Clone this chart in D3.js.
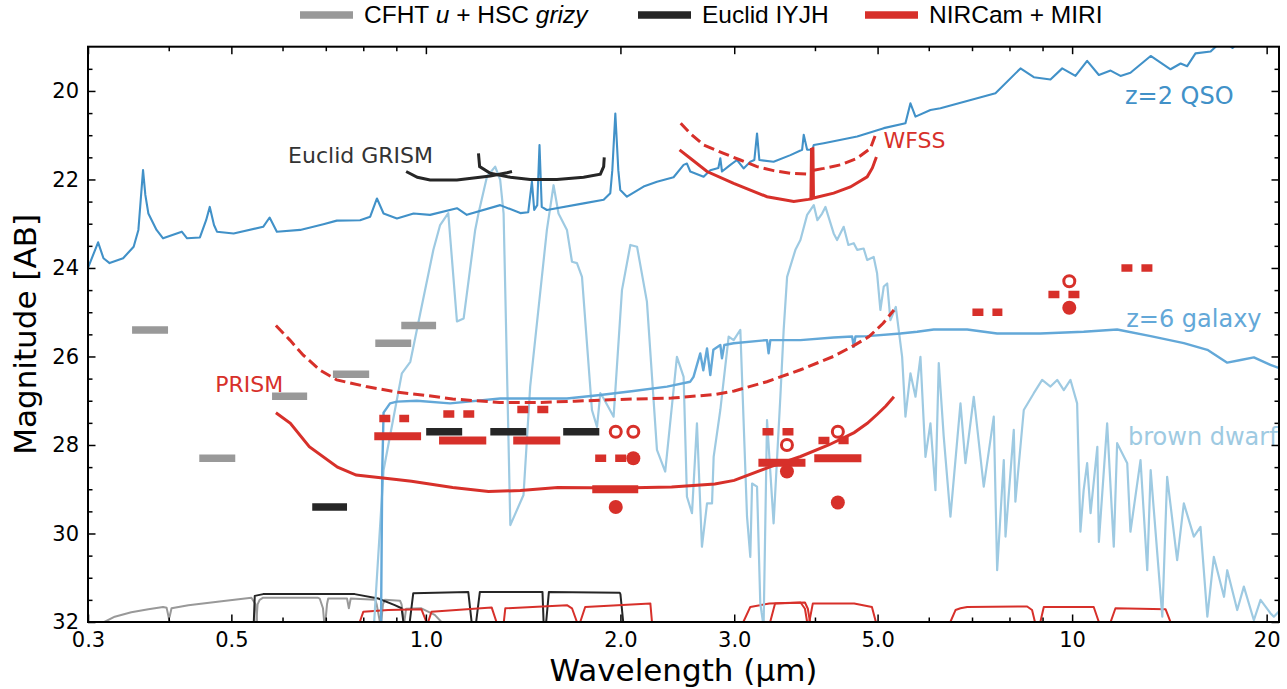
<!DOCTYPE html>
<html>
<head>
<meta charset="utf-8">
<script src="https://cdn.jsdelivr.net/npm/d3@7"></script>
<style>
  body { margin: 0; background: #fff; }
  svg { display: block; font-family: "DejaVu Sans", sans-serif; }
  .legend text { font-family: "Liberation Sans", Arial, sans-serif; }
</style>
</head>
<body>
<svg id="chart" width="1287" height="689"></svg>
<script>
// ---- data: wavelength (micron), AB magnitude ----

// spectra
const qsoSpec = [[0.300,24.0],[0.311,23.42],[0.317,23.78],[0.324,23.89],[0.340,23.78],[0.353,23.52],[0.359,23.14],[0.362,22.46],[0.365,21.79],[0.368,22.35],[0.372,22.77],[0.383,23.14],[0.392,23.33],[0.419,23.18],[0.427,23.33],[0.447,23.31],[0.457,22.92],[0.463,22.62],[0.470,23.03],[0.475,23.18],[0.504,23.22],[0.560,23.07],[0.573,22.86],[0.588,23.18],[0.639,23.14],[0.694,23.01],[0.728,22.93],[0.791,22.92],[0.820,22.84],[0.840,22.43],[0.860,22.77],[0.902,22.88],[0.957,22.77],[1.015,22.80],[1.117,22.65],[1.157,22.80],[1.303,22.58],[1.400,22.76],[1.440,22.74],[1.459,22.05],[1.471,22.69],[1.487,22.58],[1.499,21.22],[1.511,22.62],[1.539,22.69],[1.754,22.54],[1.884,22.46],[1.929,22.31],[1.943,21.79],[1.964,20.51],[1.985,21.79],[1.999,22.24],[2.047,22.39],[2.172,22.16],[2.278,22.05],[2.417,21.95],[2.505,21.67],[2.535,21.64],[2.565,21.82],[2.690,21.94],[2.755,21.79],[2.835,21.74],[2.855,21.52],[2.872,21.82],[2.959,21.67],[3.030,21.56],[3.102,21.75],[3.177,21.60],[3.223,21.56],[3.254,20.96],[3.281,21.56],[3.452,21.60],[3.665,21.45],[3.821,21.33],[3.843,20.99],[3.890,21.33],[3.964,21.33],[3.983,21.22],[4.127,21.18],[4.649,21.03],[5.111,20.84],[5.522,20.73],[5.621,20.28],[5.723,20.58],[6.036,20.43],[6.255,20.39],[7.610,20.05],[8.320,19.49],[8.724,19.69],[9.258,19.74],[9.653,19.49],[10.12,19.66],[10.55,19.32],[11.00,19.64],[11.47,19.54],[11.88,19.66],[12.31,19.59],[13.23,19.21],[14.20,19.51],[14.72,19.38],[15.07,19.44],[15.52,19.15],[16.38,19.11],[17.1,18.85],[17.71,19.03],[18.55,18.74]];

const galaxySpec = [[0.852,32.3],[0.856,28.57],[0.860,27.27],[0.880,27.06],[0.902,27.02],[0.968,27.0],[1.090,27.06],[1.303,26.95],[1.653,26.95],[1.862,26.87],[2.096,26.78],[2.361,26.68],[2.565,26.57],[2.595,26.46],[2.658,25.93],[2.687,26.31],[2.723,25.82],[2.755,26.42],[2.785,25.85],[2.855,25.74],[2.872,26.04],[2.896,25.74],[2.994,25.70],[3.372,25.63],[3.391,25.93],[3.412,25.63],[3.798,25.63],[4.276,25.57],[4.567,25.55],[4.593,25.78],[4.621,25.55],[4.818,25.54],[5.424,25.48],[5.757,25.44],[6.107,25.39],[6.880,25.39],[7.656,25.48],[8.93,25.48],[10.42,25.44],[11.74,25.39],[13.23,25.54],[14.89,25.70],[16.19,25.85],[17.38,26.14],[18.23,26.08],[19.11,26.02],[20.27,26.19],[21.0,26.27]];

const dwarfSpec = [[0.830,32.2],[0.860,28.57],[0.918,26.38],[0.946,26.12],[0.980,25.03],[1.027,23.59],[1.052,23.03],[1.083,22.76],[1.117,25.21],[1.144,25.14],[1.192,23.14],[1.206,22.77],[1.243,21.94],[1.280,21.71],[1.303,22.01],[1.319,22.77],[1.351,29.81],[1.416,29.13],[1.450,26.68],[1.539,23.14],[1.576,22.13],[1.604,22.77],[1.653,23.14],[1.683,23.86],[1.713,23.89],[1.744,24.20],[1.807,27.21],[1.840,27.59],[1.862,26.83],[1.884,26.95],[1.952,27.36],[2.011,24.50],[2.072,23.48],[2.122,23.52],[2.198,24.76],[2.278,28.11],[2.346,28.60],[2.446,26.01],[2.505,26.46],[2.535,29.17],[2.581,29.54],[2.627,27.51],[2.674,30.30],[2.723,29.32],[2.772,29.32],[2.788,28.27],[2.855,27.21],[2.941,25.55],[2.994,25.63],[3.066,25.40],[3.140,29.62],[3.177,30.53],[3.197,28.87],[3.254,28.94],[3.292,31.58],[3.331,32.1],[3.372,27.44],[3.452,29.77],[3.536,26.91],[3.578,25.40],[3.622,24.20],[3.731,23.59],[3.798,23.37],[3.890,22.80],[3.983,22.58],[4.035,22.92],[4.103,22.77],[4.152,22.62],[4.276,23.22],[4.328,23.37],[4.431,23.07],[4.506,23.48],[4.593,23.44],[4.649,23.59],[4.758,23.56],[4.818,23.82],[4.931,23.75],[4.991,24.12],[5.050,24.95],[5.111,24.42],[5.174,24.35],[5.234,25.18],[5.335,24.88],[5.391,25.40],[5.457,26.01],[5.522,27.36],[5.621,26.38],[5.723,26.91],[5.825,26.01],[5.930,28.27],[6.036,27.51],[6.145,29.02],[6.218,26.15],[6.329,27.81],[6.482,29.62],[6.718,27.06],[6.838,28.41],[7.044,26.91],[7.299,28.94],[7.564,27.36],[7.656,30.83],[7.839,28.34],[7.887,30.07],[8.123,27.66],[8.17,29.28],[8.418,27.21],[8.724,26.83],[8.987,26.53],[9.258,26.68],[9.482,26.53],[9.708,26.76],[9.942,26.53],[10.18,27.06],[10.30,29.96],[10.42,29.02],[10.55,28.41],[10.68,29.54],[10.94,28.04],[11.00,30.19],[11.33,27.51],[11.60,30.30],[11.74,27.96],[12.17,28.41],[12.31,29.96],[12.76,28.34],[13.07,30.83],[13.23,28.57],[13.79,31.88],[14.03,28.72],[14.54,30.60],[14.89,29.32],[15.43,30.07],[15.80,29.85],[16.19,31.88],[16.57,30.53],[17.18,31.43],[17.38,30.83],[18.01,31.73],[18.44,31.20],[19.11,31.96],[19.57,31.50],[20.27,31.80],[20.52,31.88],[21.0,31.73]];

// spectroscopic sensitivity curves
const prismDeep = [[0.586,27.27],[0.617,27.51],[0.66,28.04],[0.73,28.5],[0.78,28.68],[0.90,28.78],[0.95,28.82],[1.1,28.96],[1.25,29.05],[1.4,29.03],[1.6,28.96],[2.0,28.97],[2.4,28.95],[2.8,28.88],[3.0,28.8],[3.4,28.5],[3.8,28.26],[4.2,28.0],[4.6,27.72],[4.82,27.51],[5.0,27.3],[5.15,27.12],[5.3,26.91]];
const prismShallow = [[0.586,25.30],[0.616,25.63],[0.646,25.97],[0.686,26.31],[0.728,26.53],[0.808,26.68],[0.906,26.81],[1.0,26.88],[1.1,26.96],[1.3,27.04],[1.5,27.04],[1.7,27.01],[2.0,26.97],[2.4,26.94],[2.8,26.86],[3.0,26.78],[3.37,26.57],[3.8,26.30],[4.27,26.0],[4.6,25.75],[4.85,25.55],[5.1,25.25],[5.3,24.95]];
const wfssDeepA = [[2.469,21.33],[2.565,21.52],[2.723,21.82],[2.994,22.09],[3.372,22.39],[3.709,22.50],[3.908,22.45],[3.943,22.44],[3.951,21.29]];
const wfssDeepB = [[3.971,21.27],[3.979,22.42],[4.276,22.31],[4.538,22.17],[4.818,21.94],[4.908,21.74],[4.979,21.49]];
const wfssShallowA = [[2.479,20.73],[2.565,20.96],[2.690,21.22],[2.889,21.41],[3.066,21.56],[3.254,21.71],[3.452,21.80],[3.665,21.86],[3.936,21.88]];
const wfssShallowB = [[3.983,21.79],[4.127,21.75],[4.379,21.67],[4.649,21.52],[4.873,21.30],[4.96,21.0]];
const grismBlue = [[0.932,21.82],[0.97,21.95],[1.015,22.01],[1.117,22.01],[1.258,21.92],[1.335,21.85],[1.359,21.82]];
const grismRed = [[1.206,21.41],[1.211,21.71],[1.258,21.86],[1.351,21.95],[1.450,22.0],[1.595,22.0],[1.754,21.95],[1.862,21.88],[1.884,21.71],[1.888,21.50]];

// imaging depths: [lambda min, lambda max, mag]
const hscBands = [[0.351,0.399,25.4],[0.446,0.507,28.3],[0.578,0.655,26.9],[0.718,0.817,26.4],[0.835,0.949,25.7],[0.916,1.037,25.3]];
const euclidBands = [[0.667,0.755,29.4],[1.001,1.138,27.7],[1.258,1.430,27.7],[1.631,1.855,27.7]];
const jwstDeep = [[0.832,0.983,27.8],[1.048,1.240,27.9],[1.365,1.614,27.9],[1.809,2.131,29.0],[3.27,3.867,28.4],[3.99,4.72,28.3]];
const jwstShallow = [[0.847,0.942,27.4],[1.064,1.188,27.3],[1.385,1.547,27.2],[1.828,2.071,28.3],[3.318,3.705,27.7],[4.05,4.51,27.9],[7.01,7.80,25.0],[9.19,10.27,24.6],[11.92,13.32,24.0]];
const openPts = [[1.967,27.7],[2.094,27.7],[3.62,28.0],[4.34,27.7],[9.9,24.3]];
const filledPts = [[2.094,28.3],[1.967,29.4],[3.62,28.6],[4.34,29.3],[9.9,24.9]];

// filter transmission curves drawn along the bottom axis
const hscFilters = [
  [[0.318,32.0],[0.330,31.88],[0.350,31.78],[0.372,31.71],[0.392,31.66],[0.397,31.68],[0.400,31.9],[0.401,32.0]],
  [[0.401,31.9],[0.404,31.69],[0.429,31.62],[0.483,31.53],[0.537,31.45],[0.545,31.6],[0.548,32.0]],
  [[0.5465,32.0],[0.549,31.6],[0.553,31.50],[0.560,31.45],[0.680,31.45],[0.685,31.47],[0.693,31.69],[0.696,32.0]],
  [[0.699,32.0],[0.703,31.6],[0.706,31.47],[0.755,31.47],[0.760,31.69],[0.765,31.47],[0.835,31.50],[0.839,31.6],[0.849,32.0]],
  [[0.853,32.0],[0.858,31.6],[0.864,31.50],[0.912,31.52],[0.917,31.6],[0.925,32.0]],
  [[0.926,32.0],[0.932,31.7],[0.984,31.69],[1.032,31.84],[1.057,32.0]]
];
const euclidFilters = [
  [[0.5416,32.0],[0.5435,31.41],[0.560,31.37],[0.776,31.37],[0.844,31.47],[0.895,31.62],[0.917,31.69],[0.923,32.0]],
  [[0.944,32.0],[0.956,31.35],[1.163,31.32],[1.177,32.0]],
  [[1.196,32.0],[1.212,31.32],[1.515,31.32],[1.521,32.0]],
  [[1.535,32.0],[1.55,31.32],[1.995,31.34],[2.0,31.37],[2.02,32.0]]
];
const jwstFilters = [
  [[0.790,32.0],[0.800,31.77],[0.874,31.73],[0.984,31.71],[1.002,32.0]],
  [[1.008,32.0],[1.020,31.77],[1.264,31.67],[1.286,32.0]],
  [[1.32,32.0],[1.327,31.69],[1.653,31.62],[1.683,31.69],[1.713,32.0]],
  [[1.733,32.0],[1.764,31.66],[2.225,31.58],[2.238,32.0]],
  [[3.099,32.0],[3.177,31.66],[3.40,31.58],[3.80,31.56],[3.86,31.70],[3.89,32.0]],
  [[3.41,32.0],[3.47,31.58],[3.86,31.56],[3.90,31.70],[3.93,32.0]],
  [[3.92,32.0],[3.97,31.58],[4.6,31.58],[4.9,31.66],[4.97,32.0]],
  [[6.48,32.0],[6.60,31.73],[6.718,31.69],[6.88,31.66],[8.52,31.65],[8.67,31.73],[8.76,32.0]],
  [[8.93,32.0],[9.04,31.66],[10.80,31.66],[11.0,32.0]],
  [[11.47,32.0],[11.67,31.69],[13.95,31.71],[14.2,32.0]]
];

// axis ticks
const xMajor = [0.3, 0.5, 1, 2, 3, 5, 10, 20];
const xMinor = [0.4, 0.6, 0.7, 0.8, 0.9, 4, 6, 7, 8, 9];
const yMajor = [20, 22, 24, 26, 28, 30, 32];
const yMinor = [19.5, 20.5, 21, 21.5, 22.5, 23, 23.5, 24.5, 25, 25.5, 26.5, 27, 27.5, 28.5, 29, 29.5, 30.5, 31, 31.5];

// ---- layout ----
const width = 1287, height = 689;
const margin = { top: 46.7, right: 8, bottom: 67, left: 88 };
const innerW = width - margin.left - margin.right;
const innerH = height - margin.top - margin.bottom;

const colors = {
  red: '#d7302a', gray: '#999999', black: '#262626',
  qso: '#4191c8', galaxy: '#63a8d8', dwarf: '#9ecae2'
};

const svg = d3.select('#chart');

const x = d3.scaleLog().domain([0.3, 20.9]).range([margin.left, margin.left + innerW]);
const y = d3.scaleLinear().domain([19, 32]).range([margin.top, margin.top + innerH]);

svg.append('defs').append('clipPath').attr('id', 'plot-clip')
  .append('rect')
  .attr('x', margin.left).attr('y', margin.top)
  .attr('width', innerW).attr('height', innerH);

const plot = svg.append('g').attr('clip-path', 'url(#plot-clip)');

const line = d3.line().x(d => x(d[0])).y(d => y(d[1]));

// filter transmission curves
function drawCurves(list, color, w) {
  plot.append('g').selectAll('path').data(list).enter().append('path')
    .attr('d', line).attr('fill', 'none')
    .attr('stroke', color).attr('stroke-width', w)
    .attr('stroke-linejoin', 'round');
}
drawCurves(hscFilters, colors.gray, 2);
drawCurves(euclidFilters, colors.black, 2);
drawCurves(jwstFilters, colors.red, 2);

// spectra
function drawSpec(data, color, w) {
  plot.append('path').datum(data)
    .attr('d', line).attr('fill', 'none')
    .attr('stroke', color).attr('stroke-width', w)
    .attr('stroke-linejoin', 'round');
}
drawSpec(dwarfSpec, colors.dwarf, 2.2);
drawSpec(galaxySpec, colors.galaxy, 2.4);
drawSpec(qsoSpec, colors.qso, 2.1);

// spectroscopic sensitivities
function drawSens(data, color, dashed) {
  plot.append('path').datum(data)
    .attr('d', line).attr('fill', 'none')
    .attr('stroke', color).attr('stroke-width', 3)
    .attr('stroke-dasharray', dashed ? '11,5' : null)
    .attr('stroke-linecap', 'butt');
}
drawSens(grismBlue, colors.black, false);
drawSens(grismRed, colors.black, false);
drawSens(wfssDeepA, colors.red, false);
drawSens(wfssDeepB, colors.red, false);
drawSens(wfssShallowA, colors.red, true);
drawSens(wfssShallowB, colors.red, true);
drawSens(prismDeep, colors.red, false);
drawSens(prismShallow, colors.red, true);

// imaging depth bars
function drawBars(data, color, w, dash) {
  plot.append('g').selectAll('line').data(data).enter().append('line')
    .attr('x1', d => x(d[0])).attr('x2', d => x(d[1]))
    .attr('y1', d => y(d[2])).attr('y2', d => y(d[2]))
    .attr('stroke', color).attr('stroke-width', w)
    .attr('stroke-dasharray', dash);
}
drawBars(hscBands, colors.gray, 7.5, null);
drawBars(euclidBands, colors.black, 7.5, null);
drawBars(jwstDeep, colors.red, 8, null);
drawBars(jwstShallow, colors.red, 7.5, '11,9');

plot.append('g').selectAll('circle').data(openPts).enter().append('circle')
  .attr('cx', d => x(d[0])).attr('cy', d => y(d[1])).attr('r', 5.5)
  .attr('fill', '#fff').attr('stroke', colors.red).attr('stroke-width', 3);
plot.append('g').selectAll('circle').data(filledPts).enter().append('circle')
  .attr('cx', d => x(d[0])).attr('cy', d => y(d[1])).attr('r', 7)
  .attr('fill', colors.red);

// annotations
const notes = [
  { t: 'Euclid GRISM', at: [0.612, 21.62], c: '#333333', a: 'start', s: 22 },
  { t: 'WFSS', at: [5.106, 21.29], c: colors.red, a: 'start', s: 22 },
  { t: 'PRISM', at: [0.472, 26.80], c: colors.red, a: 'start', s: 22 },
  { t: 'z=2 QSO', at: [17.78, 20.29], c: colors.qso, a: 'end', s: 24 },
  { t: 'z=6 galaxy', at: [19.64, 25.33], c: colors.galaxy, a: 'end', s: 24 },
  { t: 'brown dwarf', at: [20.8, 28.0], c: colors.dwarf, a: 'end', s: 24 }
];
svg.append('g').selectAll('text').data(notes).enter().append('text')
  .attr('x', d => x(d.at[0])).attr('y', d => y(d.at[1]))
  .attr('text-anchor', d => d.a)
  .style('font-size', d => d.s + 'px')
  .attr('fill', d => d.c)
  .text(d => d.t);

// axes: inward ticks on all four sides
const axes = svg.append('g');
const bottom = margin.top + innerH, right = margin.left + innerW;

axes.append('g').attr('transform', `translate(0,${bottom})`)
  .call(d3.axisBottom(x).tickValues(xMajor).tickSize(-7.5).tickPadding(10)
    .tickFormat(d => d >= 10 ? d3.format('d')(d) : d3.format('.1f')(d)));
axes.append('g').attr('transform', `translate(0,${bottom})`)
  .call(d3.axisBottom(x).tickValues(xMinor).tickSize(-4.5).tickFormat(''));
axes.append('g').attr('transform', `translate(0,${margin.top})`)
  .call(d3.axisTop(x).tickValues(xMajor).tickSize(-7.5).tickFormat(''));
axes.append('g').attr('transform', `translate(0,${margin.top})`)
  .call(d3.axisTop(x).tickValues(xMinor).tickSize(-4.5).tickFormat(''));

axes.append('g').attr('transform', `translate(${margin.left},0)`)
  .call(d3.axisLeft(y).tickValues(yMajor).tickSize(-7.5).tickPadding(9).tickFormat(d3.format('d')));
axes.append('g').attr('transform', `translate(${margin.left},0)`)
  .call(d3.axisLeft(y).tickValues(yMinor).tickSize(-4.5).tickFormat(''));
axes.append('g').attr('transform', `translate(${right},0)`)
  .call(d3.axisRight(y).tickValues(yMajor).tickSize(-7.5).tickFormat(''));
axes.append('g').attr('transform', `translate(${right},0)`)
  .call(d3.axisRight(y).tickValues(yMinor).tickSize(-4.5).tickFormat(''));

axes.selectAll('.domain').remove();
axes.selectAll('.tick line').attr('stroke', '#000').attr('stroke-width', 1.5);
axes.selectAll('.tick text').attr('fill', '#000')
  .style('font-size', '21px').style('font-family', '"DejaVu Sans", sans-serif');

svg.append('rect')
  .attr('x', margin.left).attr('y', margin.top)
  .attr('width', innerW).attr('height', innerH)
  .attr('fill', 'none').attr('stroke', '#000').attr('stroke-width', 2);

// axis titles
svg.append('text')
  .attr('x', margin.left + innerW / 2).attr('y', 681)
  .attr('text-anchor', 'middle').style('font-size', '31px')
  .text('Wavelength (\u00b5m)');
svg.append('text')
  .attr('transform', `translate(36,${margin.top + innerH / 2}) rotate(-90)`)
  .attr('text-anchor', 'middle').style('font-size', '31px')
  .text('Magnitude [AB]');

// legend
const legendItems = [
  { x: 300, c: colors.gray, parts: [['CFHT ', 'normal'], ['u', 'italic'], [' + HSC ', 'normal'], ['grizy', 'italic']] },
  { x: 638, c: colors.black, parts: [['Euclid IYJH', 'normal']] },
  { x: 865, c: colors.red, parts: [['NIRCam + MIRI', 'normal']] }
];
const legend = svg.append('g').attr('class', 'legend');
legendItems.forEach(item => {
  legend.append('line')
    .attr('x1', item.x).attr('x2', item.x + 53)
    .attr('y1', 15).attr('y2', 15)
    .attr('stroke', item.c).attr('stroke-width', 7.5);
  const txt = legend.append('text')
    .attr('x', item.x + 64).attr('y', 23)
    .style('font-size', '24.5px').attr('fill', '#000');
  item.parts.forEach(p => {
    txt.append('tspan').style('font-style', p[1]).text(p[0]);
  });
});
</script>
</body>
</html>
